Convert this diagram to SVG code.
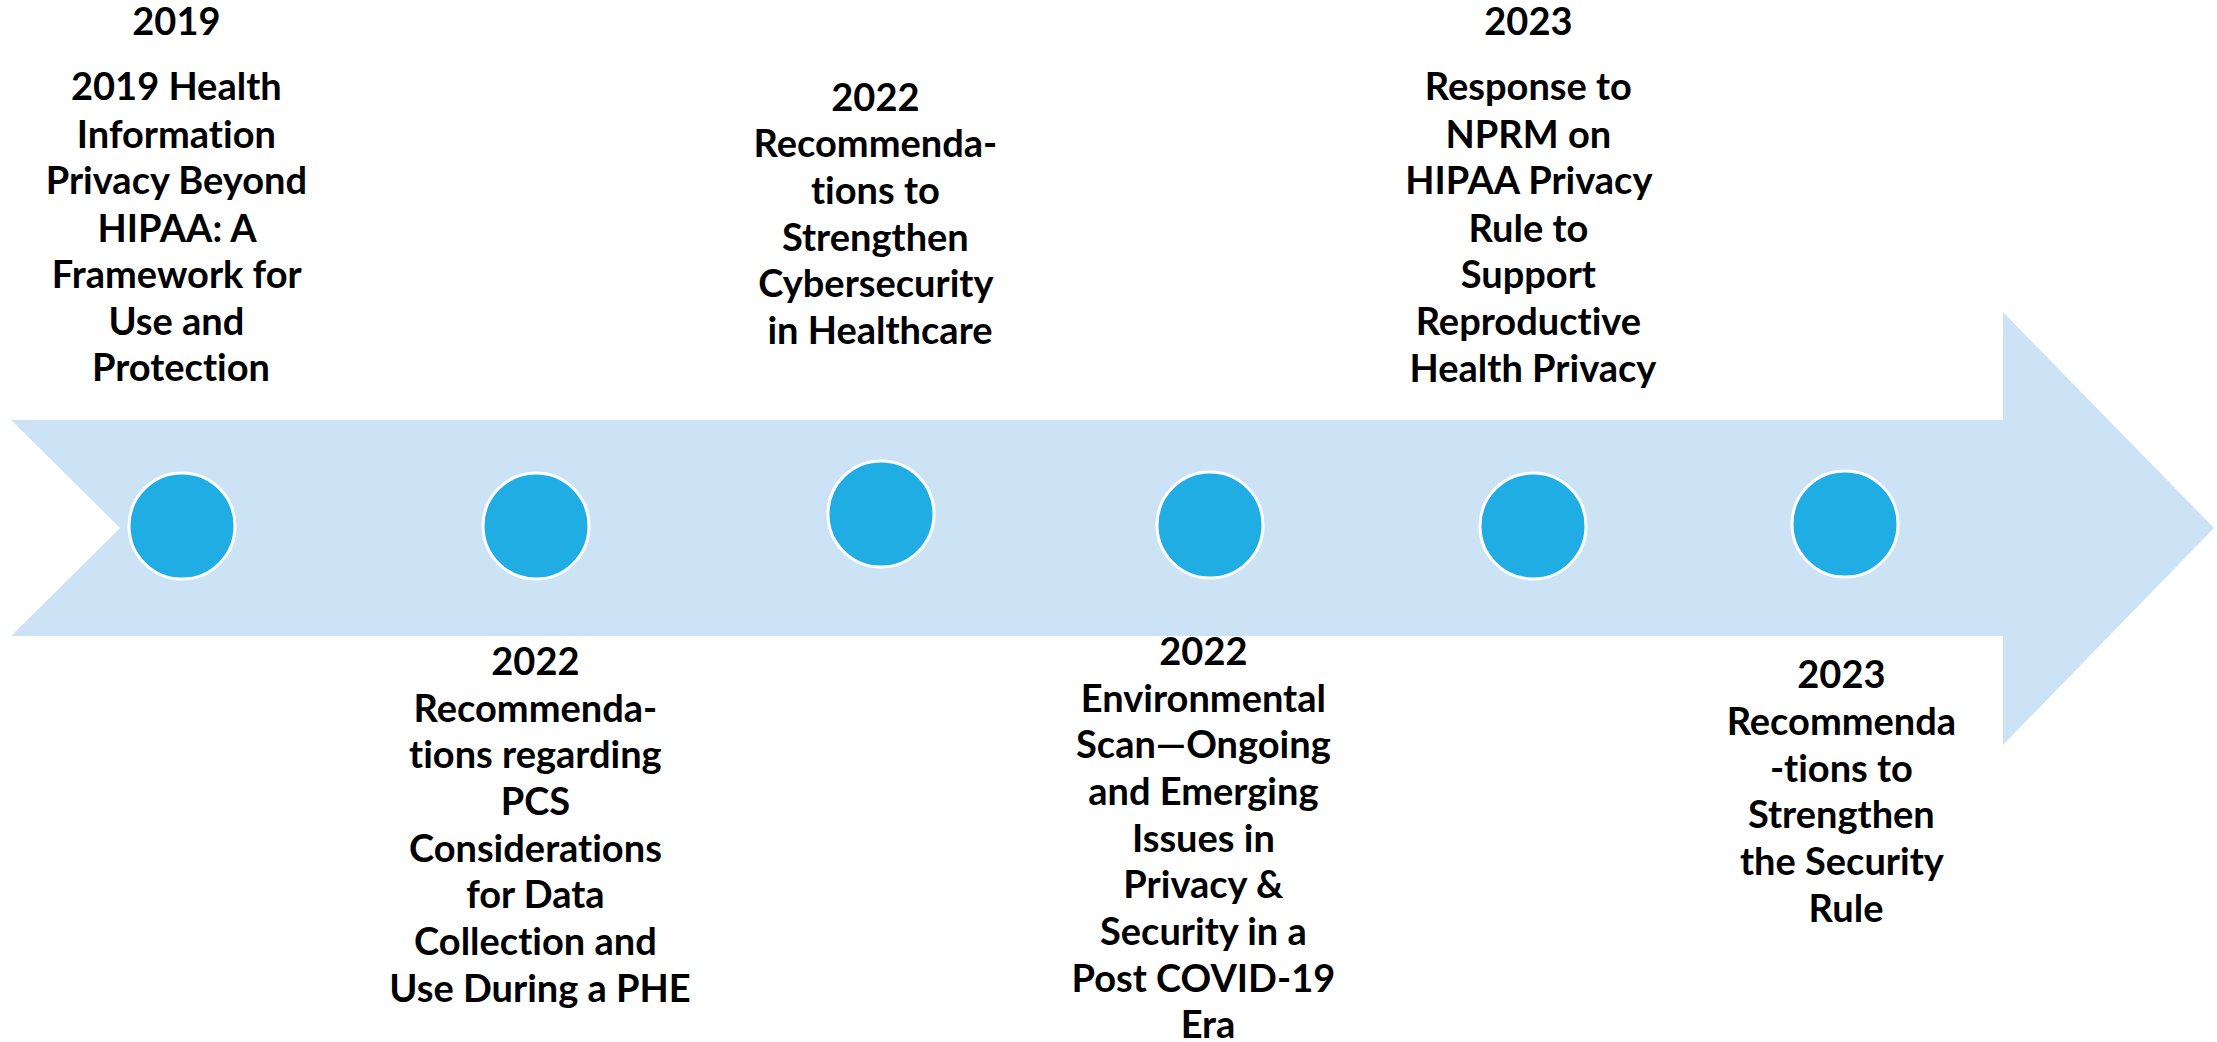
<svg xmlns="http://www.w3.org/2000/svg" width="2217" height="1042" viewBox="0 0 2217 1042">
  <style>
    .band { fill: #CCE3F5; }
    .dot { fill: #1FADE3; stroke: #FFFFFF; stroke-width: 3; }
    .lbl { font-family: Lato, "Open Sans", "Liberation Sans", sans-serif; font-weight: 700; font-size: 38px; fill: #000000; text-anchor: middle; font-variant-ligatures: none; }
  </style>
  <rect width="2217" height="1042" fill="#FFFFFF"/>

  <!-- timeline band: notched tail, block arrow head -->
  <g id="connectors">
    <path class="band" d="M11,420 L2003,420 L2003,312 L2214,528 L2003,745 L2003,636 L11,636 L120,528 Z"/>
  </g>

  <g id="node-2019">
    <circle class="dot" cx="182" cy="526" r="53"/>
    <text class="lbl">
      <tspan x="181" y="35">2019</tspan>
      <tspan x="181" y="100">2019 Health</tspan>
      <tspan x="181" y="148">Information</tspan>
      <tspan x="181" y="194">Privacy Beyond</tspan>
      <tspan x="181" y="242">HIPAA: A</tspan>
      <tspan x="181" y="288">Framework for</tspan>
      <tspan x="181" y="335">Use and</tspan>
      <tspan x="181" y="381">Protection</tspan>
    </text>
  </g>

  <g id="node-2022-pcs">
    <circle class="dot" cx="536" cy="526" r="53"/>
    <text class="lbl">
      <tspan x="540" y="675">2022</tspan>
      <tspan x="540" y="722">Recommenda-</tspan>
      <tspan x="540" y="768">tions regarding</tspan>
      <tspan x="540" y="815">PCS</tspan>
      <tspan x="540" y="862">Considerations</tspan>
      <tspan x="540" y="908">for Data</tspan>
      <tspan x="540" y="955">Collection and</tspan>
      <tspan x="540" y="1002">Use During a PHE</tspan>
    </text>
  </g>

  <g id="node-2022-cyber">
    <circle class="dot" cx="881" cy="514" r="53"/>
    <text class="lbl">
      <tspan x="880" y="111">2022</tspan>
      <tspan x="880" y="157">Recommenda-</tspan>
      <tspan x="880" y="204">tions to</tspan>
      <tspan x="880" y="251">Strengthen</tspan>
      <tspan x="880" y="297">Cybersecurity</tspan>
      <tspan x="880" y="344">in Healthcare</tspan>
    </text>
  </g>

  <g id="node-2022-scan">
    <circle class="dot" cx="1210" cy="525" r="53"/>
    <text class="lbl">
      <tspan x="1208" y="665">2022</tspan>
      <tspan x="1208" y="712">Environmental</tspan>
      <tspan x="1208" y="758">Scan—Ongoing</tspan>
      <tspan x="1208" y="805">and Emerging</tspan>
      <tspan x="1208" y="852">Issues in</tspan>
      <tspan x="1208" y="898">Privacy &amp;</tspan>
      <tspan x="1208" y="945">Security in a</tspan>
      <tspan x="1208" y="992">Post COVID-19</tspan>
      <tspan x="1208" y="1038">Era</tspan>
    </text>
  </g>

  <g id="node-2023-nprm">
    <circle class="dot" cx="1533" cy="526" r="53"/>
    <text class="lbl">
      <tspan x="1533" y="35">2023</tspan>
      <tspan x="1533" y="100">Response to</tspan>
      <tspan x="1533" y="148">NPRM on</tspan>
      <tspan x="1533" y="194">HIPAA Privacy</tspan>
      <tspan x="1533" y="242">Rule to</tspan>
      <tspan x="1533" y="288">Support</tspan>
      <tspan x="1533" y="335">Reproductive</tspan>
      <tspan x="1533" y="382">Health Privacy</tspan>
    </text>
  </g>

  <g id="node-2023-security">
    <circle class="dot" cx="1845" cy="524" r="53"/>
    <text class="lbl">
      <tspan x="1846" y="688">2023</tspan>
      <tspan x="1846" y="735">Recommenda</tspan>
      <tspan x="1846" y="782">-tions to</tspan>
      <tspan x="1846" y="828">Strengthen</tspan>
      <tspan x="1846" y="875">the Security</tspan>
      <tspan x="1846" y="922">Rule</tspan>
    </text>
  </g>
</svg>
